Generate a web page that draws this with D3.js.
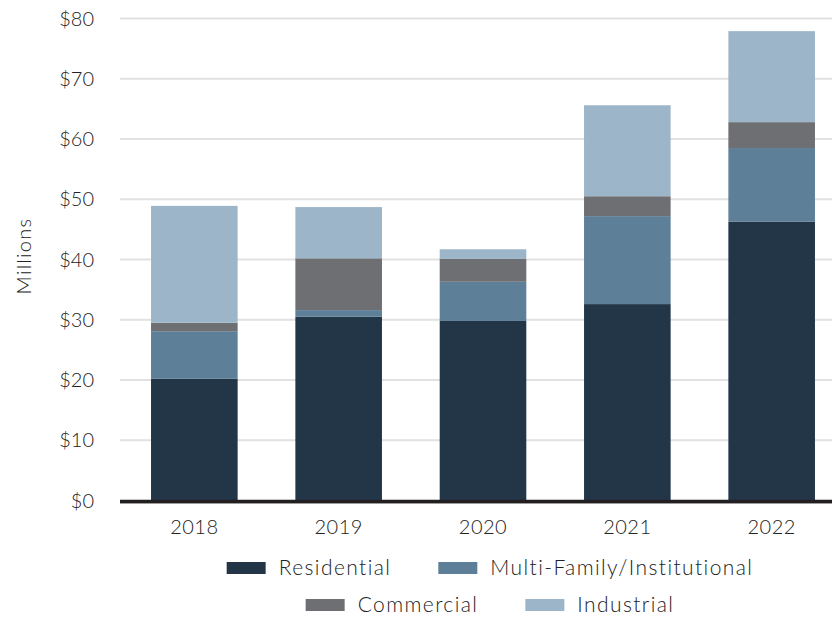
<!DOCTYPE html>
<html><head><meta charset="utf-8">
<script src="https://cdn.jsdelivr.net/npm/d3@7"></script>
<style>body{margin:0;background:#fff}svg{display:block}text{font-family:Lato,"Noto Sans",sans-serif;font-weight:300;fill:#222}</style>
</head><body>
<script>
const years = ["2018","2019","2020","2021","2022"];
const seriesNames = ["Residential","Multi-Family/Institutional","Commercial","Industrial"];
const residential = [20.2, 30.5, 29.8, 32.6, 46.3];
const multiFamily = [7.9, 1.1, 6.5, 14.6, 12.2];
const commercial = [1.4, 8.6, 3.8, 3.3, 4.3];
const industrial = [19.4, 8.5, 1.6, 15.1, 15.1];
const yTicks = [0,10,20,30,40,50,60,70,80];
const colors = ["#223648","#5e7f98","#6e6f73","#9cb5c8"];

const W=832,H=618;
const svg=d3.select("body").append("svg").attr("width",W).attr("height",H);
const rows = years.map((y,i)=>({year:y,Residential:residential[i],"Multi-Family/Institutional":multiFamily[i],Commercial:commercial[i],Industrial:industrial[i]}));
const stack=d3.stack().keys(seriesNames)(rows);

const x=d3.scaleBand().domain(years).range([120,846]).paddingInner(0.4).paddingOuter(0.215);
const y=d3.scaleLinear().domain([0,80]).range([500.5,18.5]);

svg.append("g").selectAll("line").data(yTicks.filter(d=>d>0)).join("line")
  .attr("x1",120).attr("x2",832).attr("y1",d=>y(d)).attr("y2",d=>y(d))
  .attr("stroke","#e1e1e1").attr("stroke-width",2);

svg.append("g").selectAll("text").data(yTicks).join("text")
  .attr("x",94).attr("y",d=>y(d)).attr("dy","0.35em").attr("text-anchor","end")
  .style("font-size","20px").text(d=>"$"+d);

svg.append("text").attr("transform","translate(31,256) rotate(-90)")
  .attr("text-anchor","middle").style("font-size","20px").style("letter-spacing","1.3px").text("Millions");

svg.append("g").selectAll("g").data(stack).join("g").attr("fill",(d,i)=>colors[i])
  .selectAll("rect").data(d=>d).join("rect")
  .attr("x",d=>x(d.data.year)).attr("width",x.bandwidth())
  .attr("y",d=>y(d[1])).attr("height",d=>y(d[0])-y(d[1]));

svg.append("line").attr("x1",120).attr("x2",832).attr("y1",503.5).attr("y2",503.5).attr("stroke","#c8c8c8").attr("stroke-width",1);
svg.append("line").attr("x1",120).attr("x2",832).attr("y1",501.5).attr("y2",501.5).attr("stroke","#231f20").attr("stroke-width",3.5);

svg.append("g").selectAll("text").data(years).join("text")
  .attr("x",d=>x(d)+x.bandwidth()/2).attr("y",527).attr("dy","0.35em").attr("text-anchor","middle")
  .style("font-size","20px").style("letter-spacing","0.5px").text(d=>d);

const legendRows=[[0,1],[2,3]];
const rowY=[568,605];
const cx=490, sw=39, gapT=13, gapItem=47;
legendRows.forEach((r,ri)=>{
  const g=svg.append("g");
  const items=g.selectAll("g").data(r).join("g");
  items.append("rect").attr("width",sw).attr("height",12).attr("y",rowY[ri]-6).attr("fill",i=>colors[i]);
  items.append("text").attr("x",sw+gapT).attr("y",rowY[ri]).attr("dy","0.35em")
    .style("font-size","21px").style("letter-spacing","1.4px").text(i=>seriesNames[i]);
  let widths=[];
  items.each(function(){widths.push(sw+gapT+d3.select(this).select("text").node().getComputedTextLength());});
  const total=widths.reduce((a,b)=>a+b,0)+gapItem*(r.length-1);
  let pos=cx-total/2;
  items.attr("transform",(d,i)=>{const t=`translate(${pos},0)`;pos+=widths[i]+gapItem;return t;});
});
</script>
</body></html>
